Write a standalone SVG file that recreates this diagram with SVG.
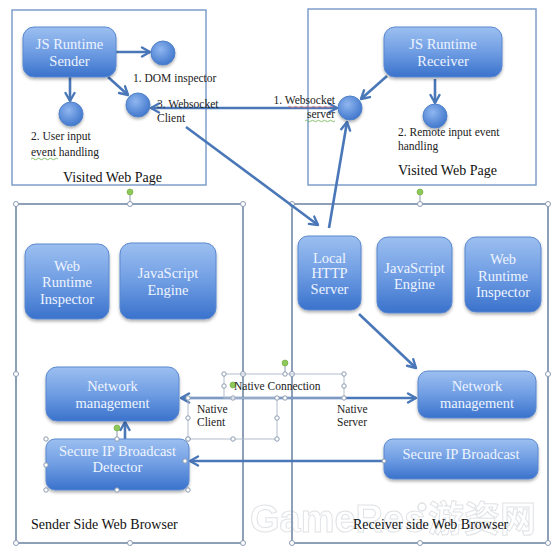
<svg xmlns="http://www.w3.org/2000/svg" width="557" height="551" viewBox="0 0 557 551">
<defs>
<linearGradient id="ng" x1="0" y1="0" x2="0" y2="1">
<stop offset="0" stop-color="#9cbff0"/>
<stop offset="0.5" stop-color="#6f9de3"/>
<stop offset="1" stop-color="#3a72cc"/>
</linearGradient>
<radialGradient id="cg" cx="0.4" cy="0.35" r="0.7">
<stop offset="0" stop-color="#8fb6ef"/>
<stop offset="1" stop-color="#3d74cb"/>
</radialGradient>
<filter id="sh" x="-10%" y="-10%" width="125%" height="130%">
<feDropShadow dx="0" dy="2" stdDeviation="1.5" flood-color="#000" flood-opacity="0.3"/>
</filter>
<marker id="ah" viewBox="0 0 12 12" refX="10" refY="6" markerWidth="12" markerHeight="12" markerUnits="userSpaceOnUse" orient="auto-start-reverse">
<path d="M2,1.5 L10,6 L2,10.5" fill="none" stroke="#4a77b8" stroke-width="2.4" stroke-linecap="round" stroke-linejoin="round"/>
</marker>
</defs>
<style>
.page{fill:none;stroke:#7e9fca;stroke-width:1.5}
.browser{fill:none;stroke:#8ea0b8;stroke-width:2}
.node{fill:url(#ng);stroke:#5b88cf;stroke-width:1;filter:url(#sh)}
.circ{fill:url(#cg);stroke:#4f80c8;stroke-width:1;filter:url(#sh)}
.nt{font-family:"Liberation Serif",serif;font-size:14.5px;fill:#eef4ff;text-anchor:middle}
.lb{font-family:"Liberation Serif",serif;font-size:11.5px;fill:#222}
.tl{font-family:"Liberation Serif",serif;font-size:14px;fill:#111}
.cn{fill:none;stroke:#4a77b8;stroke-width:2.6;marker-end:url(#ah)}
.cn2{fill:none;stroke:#4a77b8;stroke-width:2.6;marker-end:url(#ah);marker-start:url(#ah)}
.hd{fill:#fff;stroke:#8b9bb2;stroke-width:1}
.gr{fill:#8dc85a;stroke:#6fa83e;stroke-width:0.6}
.hl{stroke:#8b9bb2;stroke-width:1}
.tb{fill:none;stroke:#b3bccb;stroke-width:1}
.wv{fill:none;stroke-width:0.8}
</style>

<g id="watermark" opacity="0.75">
<text x="250" y="532" font-family="'Liberation Sans','Noto Sans CJK SC',sans-serif" font-size="38" font-weight="bold" fill="#ffffff" stroke="#d6d9de" stroke-width="1">GameRes</text>
<circle cx="422" cy="507" r="4" fill="none" stroke="#d6d9de" stroke-width="1.5"/>
<text x="428" y="532" font-family="'Noto Sans CJK SC',sans-serif" font-size="36" font-weight="bold" fill="#ffffff" stroke="#d6d9de" stroke-width="1">游资网</text>
</g>

<g id="sender-page">
<rect class="page" x="12" y="10" width="194" height="175"/>
<text class="tl" x="63" y="182">Visited Web Page</text>
</g>
<g id="receiver-page">
<rect class="page" x="308" y="9" width="228" height="176"/>
<text class="tl" x="398" y="175">Visited Web Page</text>
</g>

<g id="sender-browser">
<rect class="browser" x="16" y="204" width="227" height="339"/>
<text class="tl" x="31" y="529">Sender Side Web Browser</text>
<line class="hl" x1="130" y1="192" x2="130" y2="204"/>
<circle class="gr" cx="130" cy="192" r="3"/>
<circle class="hd" cx="16" cy="204" r="2.5"/>
<circle class="hd" cx="130" cy="204" r="2.5"/>
<circle class="hd" cx="243" cy="204" r="2.5"/>
<circle class="hd" cx="16" cy="374" r="2.5"/>
<circle class="hd" cx="243" cy="374" r="2.5"/>
<circle class="hd" cx="16" cy="543" r="2.5"/>
<circle class="hd" cx="130" cy="543" r="2.5"/>
<circle class="hd" cx="243" cy="543" r="2.5"/>
</g>
<g id="receiver-browser">
<rect class="browser" x="292" y="204" width="256" height="339"/>
<text class="tl" x="353" y="529">Receiver side Web Browser</text>
<line class="hl" x1="420" y1="192" x2="420" y2="204"/>
<circle class="gr" cx="420" cy="192" r="3"/>
<circle class="hd" cx="292" cy="204" r="2.5"/>
<circle class="hd" cx="420" cy="204" r="2.5"/>
<circle class="hd" cx="548" cy="204" r="2.5"/>
<circle class="hd" cx="292" cy="374" r="2.5"/>
<circle class="hd" cx="548" cy="374" r="2.5"/>
<circle class="hd" cx="292" cy="543" r="2.5"/>
<circle class="hd" cx="420" cy="543" r="2.5"/>
<circle class="hd" cx="548" cy="543" r="2.5"/>
</g>

<g id="connectors">
<line class="cn" x1="116" y1="52" x2="150" y2="52"/>
<line class="cn" x1="70" y1="77" x2="70" y2="101"/>
<line class="cn" x1="108" y1="77" x2="128" y2="95"/>
<line class="cn" x1="387" y1="76" x2="361" y2="99"/>
<line class="cn" x1="435" y1="79" x2="435" y2="103"/>
<line class="cn2" x1="151" y1="108" x2="337" y2="108"/>
<line class="cn" x1="186" y1="127" x2="318" y2="225"/>
<line class="cn" x1="329" y1="228" x2="347" y2="122"/>
<line class="cn" x1="359" y1="314" x2="416" y2="368"/>
<line class="cn2" x1="181" y1="398" x2="416" y2="398"/>
<line class="cn" x1="384" y1="461" x2="190" y2="461"/>
<line class="cn" x1="125" y1="439" x2="125" y2="422"/>
</g>

<g id="js-runtime-sender">
<rect class="node" x="23" y="27" width="93" height="50" rx="11"/>
<text class="nt" x="69.5" y="49">JS Runtime</text>
<text class="nt" x="69.5" y="66">Sender</text>
</g>
<g id="dom-inspector">
<circle class="circ" cx="163" cy="53" r="12"/>
<text class="lb" x="133" y="82">1. DOM inspector</text>
</g>
<g id="user-input">
<circle class="circ" cx="71" cy="114" r="12"/>
<text class="lb" x="31" y="140">2. User input</text>
<text class="lb" x="31" y="156">event handling</text>
<path class="wv" stroke="#6bb04a" d="M31,159 q1.5,-1.5 3,0 t3,0 t3,0 t3,0 t3,0 t3,0 t3,0 t3,0 t3,0"/>
</g>
<g id="websocket-client">
<circle class="circ" cx="138" cy="105" r="12"/>
<text class="lb" x="157" y="108">3. Websocket</text>
<text class="lb" x="157" y="122">Client</text>
</g>

<g id="js-runtime-receiver">
<rect class="node" x="384" y="27" width="118" height="50" rx="11"/>
<text class="nt" x="443" y="49">JS Runtime</text>
<text class="nt" x="443" y="66">Receiver</text>
</g>
<g id="websocket-server">
<circle class="circ" cx="350" cy="108" r="12"/>
<text class="lb" x="335" y="104" text-anchor="end">1. Websocket</text>
<text class="lb" x="335" y="118" text-anchor="end">server</text>
<path class="wv" stroke="#e07070" d="M288,107 q1.5,-1.5 3,0 t3,0 t3,0 t3,0 t3,0 t3,0 t3,0 t3,0 t3,0 t3,0 t3,0 t3,0 t3,0 t3,0 t3,0"/>
<path class="wv" stroke="#6bb04a" d="M305,121 q1.5,-1.5 3,0 t3,0 t3,0 t3,0 t3,0 t3,0 t3,0 t3,0 t3,0 t3,0"/>
</g>
<g id="remote-input">
<circle class="circ" cx="435" cy="116" r="12"/>
<text class="lb" x="398" y="136">2. Remote input event</text>
<text class="lb" x="398" y="150">handling</text>
</g>

<g id="web-runtime-inspector-sender">
<rect class="node" x="25" y="244" width="84" height="75" rx="11"/>
<text class="nt" x="67" y="271">Web</text>
<text class="nt" x="67" y="287">Runtime</text>
<text class="nt" x="67" y="304">Inspector</text>
</g>
<g id="javascript-engine-sender">
<rect class="node" x="120" y="243" width="96" height="76" rx="11"/>
<text class="nt" x="168" y="278">JavaScript</text>
<text class="nt" x="168" y="295">Engine</text>
</g>
<g id="local-http-server">
<rect class="node" x="298" y="236" width="63" height="74" rx="10"/>
<text class="nt" x="329.5" y="263">Local</text>
<text class="nt" x="329.5" y="278">HTTP</text>
<text class="nt" x="329.5" y="294">Server</text>
</g>
<g id="javascript-engine-receiver">
<rect class="node" x="377" y="237" width="75" height="76" rx="11"/>
<text class="nt" x="414.5" y="273">JavaScript</text>
<text class="nt" x="414.5" y="289">Engine</text>
</g>
<g id="web-runtime-inspector-receiver">
<rect class="node" x="465" y="237" width="76" height="75" rx="11"/>
<text class="nt" x="503" y="264">Web</text>
<text class="nt" x="503" y="281">Runtime</text>
<text class="nt" x="503" y="297">Inspector</text>
</g>

<g id="network-management-sender">
<rect class="node" x="46" y="367" width="133" height="54" rx="11"/>
<text class="nt" x="112.5" y="391">Network</text>
<text class="nt" x="112.5" y="408">management</text>
</g>
<g id="secure-ip-detector">
<rect class="node" x="46" y="439" width="143" height="51" rx="9"/>
<text class="nt" x="117.5" y="456">Secure IP Broadcast</text>
<text class="nt" x="117.5" y="472">Detector</text>
<line class="hl" x1="117" y1="428" x2="117" y2="439"/>
<circle class="gr" cx="117" cy="428" r="3"/>
<circle class="hd" cx="46" cy="439" r="2.2"/>
<circle class="hd" cx="117" cy="439" r="2.2"/>
<circle class="hd" cx="188" cy="439" r="2.2"/>
<circle class="hd" cx="46" cy="465" r="2.2"/>
<circle class="hd" cx="185" cy="461" r="2.2"/>
<circle class="hd" cx="46" cy="490" r="2.2"/>
<circle class="hd" cx="117" cy="490" r="2.2"/>
<circle class="hd" cx="188" cy="490" r="2.2"/>
</g>
<g id="network-management-receiver">
<rect class="node" x="418" y="371" width="118" height="47" rx="10"/>
<text class="nt" x="477" y="391">Network</text>
<text class="nt" x="477" y="408">management</text>
</g>
<g id="secure-ip-broadcast">
<rect class="node" x="384" y="439" width="154" height="40" rx="9"/>
<text class="nt" x="461" y="459">Secure IP Broadcast</text>
<circle class="hd" cx="384" cy="461" r="2"/>
</g>

<g id="native-connection-label">
<rect class="tb" x="224" y="374" width="120" height="24"/>
<line class="hl" x1="285" y1="363" x2="285" y2="374"/>
<circle class="gr" cx="285" cy="363" r="3"/>
<circle class="gr" cx="233" cy="385" r="3"/>
<circle class="hd" cx="224" cy="374" r="2.2"/>
<circle class="hd" cx="285" cy="374" r="2.2"/>
<circle class="hd" cx="344" cy="374" r="2.2"/>
<circle class="hd" cx="224" cy="386" r="2.2"/>
<circle class="hd" cx="344" cy="386" r="2.2"/>
<circle class="hd" cx="233" cy="398" r="2.2"/>
<circle class="hd" cx="285" cy="398" r="2.2"/>
<circle class="hd" cx="344" cy="398" r="2.2"/>
<text class="lb" x="234" y="390">Native Connection</text>
</g>
<g id="native-client-label">
<rect class="tb" x="188" y="398" width="89" height="41"/>
<circle class="hd" cx="188" cy="398" r="2.2"/>
<circle class="hd" cx="277" cy="398" r="2.2"/>
<circle class="hd" cx="188" cy="418" r="2.2"/>
<circle class="hd" cx="277" cy="418" r="2.2"/>
<circle class="hd" cx="188" cy="439" r="2.2"/>
<circle class="hd" cx="233" cy="439" r="2.2"/>
<circle class="hd" cx="277" cy="439" r="2.2"/>
<text class="lb" x="197" y="413">Native</text>
<text class="lb" x="197" y="426">Client</text>
</g>
<g id="native-server-label">
<text class="lb" x="337" y="413">Native</text>
<text class="lb" x="337" y="426">Server</text>
</g>
</svg>
